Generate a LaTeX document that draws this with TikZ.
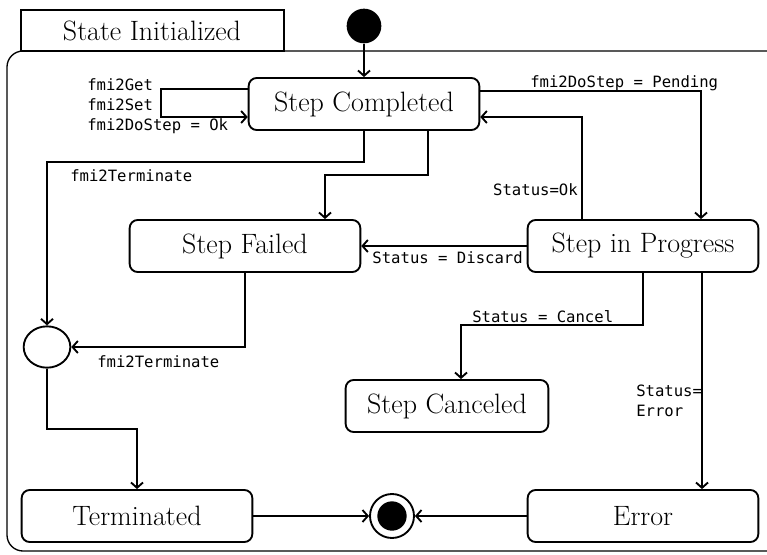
\documentclass[tikz,border=0pt]{standalone}
\usepackage{fontspec}
\setmonofont{DejaVu Sans Mono}
\usetikzlibrary{arrows.meta,shapes.geometric}

\begin{document}
\begin{tikzpicture}[x=0.75pt,y=-0.75pt,>={Straight Barb[length=4pt,width=9pt]},line width=1.4pt,
state/.style={draw,rounded corners=6pt,minimum width=173pt,minimum height=39pt,font=\fontsize{21}{24}\selectfont},
guard/.style={font=\ttfamily\fontsize{11.7}{15}\selectfont,inner sep=1pt}]
\useasboundingbox (0,0) rectangle (767,554);
% frame of the composite state
\draw[line width=1pt,rounded corners=12pt](800,51)--(7,51)--(7,551)--(800,551);
\draw[line width=1pt](21,51)rectangle(284,10);
\node[font=\fontsize{21}{24}\selectfont] (title) at (152,31) {State Initialized};
% states
\node[state] (sc) at (364,104) {Step Completed};
\node[state] (sf) at (245,246) {Step Failed};
\node[state] (sip) at (643,246) {Step in Progress};
\node[state,minimum width=152pt] (scan) at (447,406) {Step Canceled};
\node[state] (term) at (137,516) {Terminated};
\node[state] (err) at (643,516) {Error};
\node[circle,fill,minimum size=26pt,inner sep=0pt] (init) at (364,26) {};
\node[circle,draw,minimum size=33pt,inner sep=0pt] (fin) at (392,516) {};
\fill (fin) circle (11pt);
\node[ellipse,draw,minimum width=35pt,minimum height=31pt,inner sep=0pt] (junc) at (47,347) {};
% transitions
\draw[->](init)--(sc);
\draw[->](sc.west|-0,89)--(161,89)--(161,117)--(sc.west|-0,117);
\draw[->](sc.east|-0,91)-|(sip.north-|701,0);
\draw[->](sip.north-|582,0)|-(sc.east|-0,117);
\draw[->](sc.south-|428,0)--(428,175)--(325,175)--(sf.north-|325,0);
\draw[->](sc.south)--(364,162)-|(junc.north);
\draw[->](sf.south)|-(junc.east);
\draw[->](sip.west)--(sf.east);
\draw[->](sip.south)|-(461,325)--(scan.north-|461,0);
\draw[->](sip.south-|702,0)--(err.north-|702,0);
\draw[->](junc.south)|-(137,429)--(term.north);
\draw[->](term)--(fin);
\draw[->](err)--(fin);
% guards
\node[guard,anchor=west,align=left] (gself) at (85,106) {fmi2Get\\fmi2Set\\fmi2DoStep = Ok};
\node[guard,anchor=west] (gpend) at (528,83) {fmi2DoStep = Pending};
\node[guard,anchor=east] (gok) at (580,190) {Status=Ok};
\node[guard,anchor=west] (gterm) at (68,176) {fmi2Terminate};
\node[guard,anchor=east] (gdisc) at (525,258) {Status = Discard};
\node[guard,anchor=west] (gterm2) at (95,362) {fmi2Terminate};
\node[guard,anchor=west] (gcanc) at (470,317) {Status = Cancel};
\node[guard,anchor=west,align=left] (gerr) at (634,401) {Status=\\Error};
\end{tikzpicture}
\end{document}
